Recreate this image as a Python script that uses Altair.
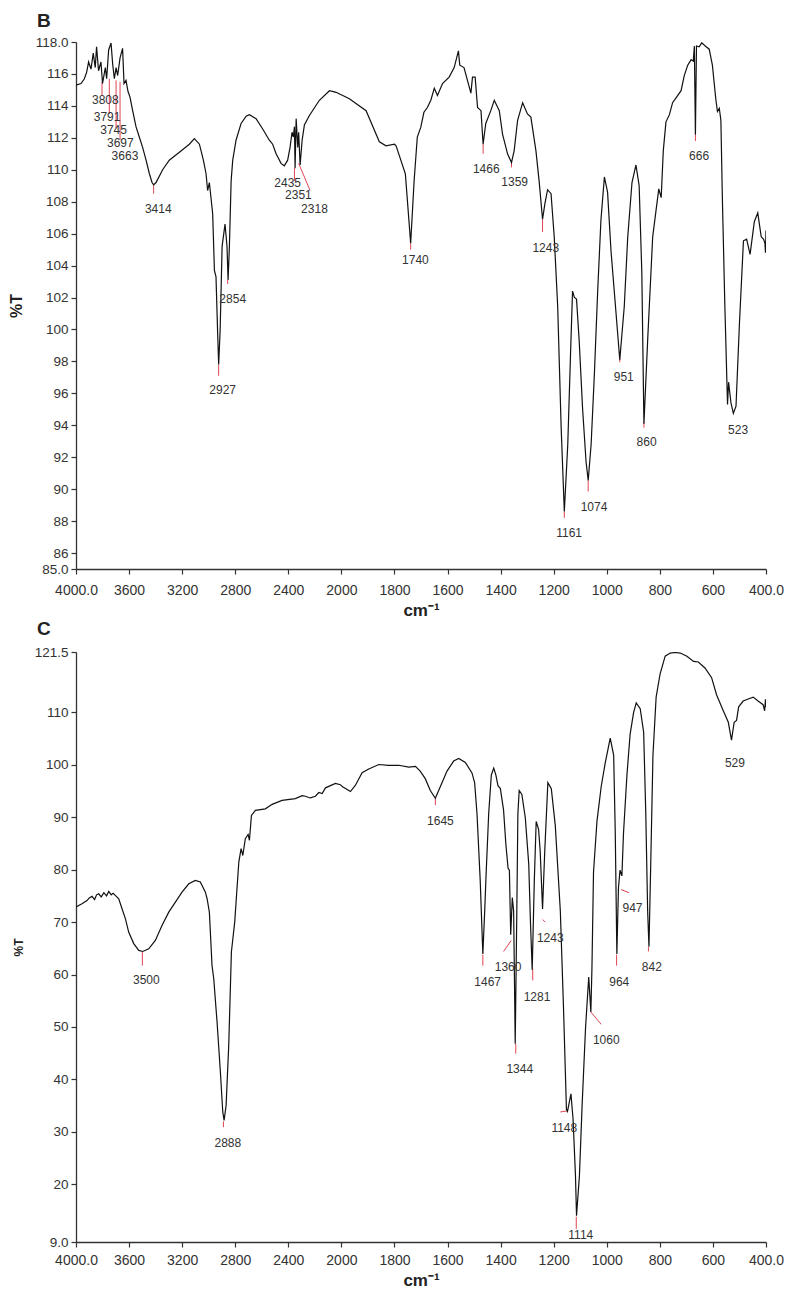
import altair as alt
import pandas as pd

# ---------------- Panel B spectrum ----------------
B_wn = [4000, 3962, 3937, 3920, 3905, 3887, 3870, 3855, 3845, 3830, 3812, 3800, 3779, 3769,
        3754, 3736, 3724, 3711, 3698, 3686, 3668, 3649, 3638, 3623, 3608, 3593, 3573, 3548,
        3523, 3498, 3472, 3447, 3427, 3415, 3397, 3347, 3297, 3221, 3146, 3108, 3070, 3040,
        3020, 3008, 2995, 2970, 2957, 2945, 2933, 2925, 2914, 2899, 2877, 2862, 2854, 2844,
        2831, 2819, 2794, 2756, 2718, 2693, 2643, 2593, 2543, 2518, 2492, 2455, 2430, 2405,
        2387, 2372, 2362, 2354, 2349, 2341, 2329, 2322, 2311, 2296, 2279, 2241, 2166, 2090,
        2040, 1970, 1907, 1857, 1832, 1800, 1794, 1782, 1759, 1739, 1726, 1714, 1701, 1689,
        1676, 1663, 1650, 1638, 1619, 1594, 1575, 1559, 1554, 1538, 1525, 1512, 1506, 1496,
        1487, 1474, 1466, 1456, 1437, 1424, 1405, 1393, 1374, 1359, 1349, 1336, 1317, 1299,
        1286, 1267, 1255, 1242, 1233, 1223, 1210, 1198, 1185, 1172, 1160, 1147, 1135, 1129,
        1122, 1114, 1104, 1091, 1078, 1070, 1059, 1047, 1034, 1022, 1009, 997, 984, 965,
        951, 934, 921, 905, 890, 878, 868, 860, 846, 827, 814, 804, 795, 787, 777, 764, 752,
        739, 720, 708, 695, 682, 674, 670, 666, 662, 652, 642, 629, 614, 602, 589, 583, 576,
        570, 564, 555, 545, 541, 532, 523, 513, 500, 485, 473, 460, 444, 431, 418, 409, 404,
        402, 400]
B_T = [115.3, 115.4, 115.7, 116.1, 116.75, 116.3, 117.3, 116.4, 117.7, 116.2, 116.75, 115.4,
       116.4, 115.7, 117.5, 117.94, 116.65, 115.7, 116.4, 115.9, 117.0, 117.6, 115.4, 115.6,
       114.9, 114.55, 113.7, 112.7, 112.05, 111.4, 110.6, 109.75, 109.2, 109.05, 109.2, 110.0,
       110.6, 111.1, 111.6, 111.95, 111.6, 110.6, 109.75, 108.7, 109.2, 107.25, 103.7, 103.3,
       99.9, 97.8, 99.9, 105.2, 106.6, 105.2, 103.1, 105.2, 109.3, 110.6, 111.85, 112.9, 113.35,
       113.45, 113.2, 112.55, 111.85, 111.6, 111.0, 110.4, 110.25, 110.6, 111.4, 112.35, 112.05,
       112.7, 110.1, 113.2, 111.4, 112.35, 110.3, 111.85, 112.8, 113.4, 114.35, 114.95, 114.85,
       114.45, 113.7, 111.75, 111.5, 111.6, 111.5, 110.9, 109.75, 105.4, 109.3, 112.05, 112.65,
       113.6, 113.9, 114.35, 115.1, 114.65, 115.4, 115.8, 116.4, 117.45, 116.55, 116.4, 115.6,
       114.8, 115.8, 115.8, 113.9, 113.7, 111.6, 112.9, 113.7, 114.35, 113.7, 112.25, 111.0,
       110.45, 111.2, 113.1, 114.2, 113.5, 113.3, 111.2, 109.3, 106.9, 107.9, 108.75, 108.5,
       105.8, 101.45, 93.9, 88.6, 92.8, 99.3, 102.4, 102.0, 101.9, 99.3, 95.0, 91.7, 90.55,
       92.8, 97.1, 102.5, 106.85, 109.55, 108.6, 104.9, 101.0, 98.1, 101.45, 105.8, 109.2,
       110.3, 109.0, 103.6, 94.1, 99.3, 105.8, 107.5, 108.8, 108.25, 111.2, 113.0, 113.45,
       114.2, 114.5, 114.95, 115.9, 116.55, 116.9, 116.8, 117.75, 112.2, 117.75, 117.7, 117.95,
       117.75, 117.55, 116.55, 114.4, 113.65, 113.85, 113.1, 107.9, 101.45, 95.3, 96.7, 95.4,
       94.75, 95.2, 100.4, 105.55, 105.65, 104.7, 106.75, 107.3, 105.8, 105.65, 105.4, 104.8,
       106.2]

# peak labels, panel B
B_lab_text = ["3808", "3791", "3745", "3697", "3663", "3414", "2927", "2854", "2435", "2351",
              "2318", "1740", "1466", "1359", "1243", "1161", "1074", "951", "860", "666", "523"]
B_lab_wn = [3779, 3766, 3717, 3666, 3631, 3380, 2895, 2819, 2405, 2324, 2203, 1721, 1454,
            1347, 1230, 1142, 1048, 936, 850, 652, 505]
B_lab_T = [114.35, 113.3, 112.47, 111.67, 110.86, 107.56, 96.18, 101.92, 109.17, 108.4,
           107.56, 104.37, 110.07, 109.23, 105.12, 87.24, 88.87, 97.01, 92.94, 110.86, 93.73]

# red marker segments, panel B
B_mk_wn = [3804, 3749, 3698, 3668, 3415, 2925, 2857, 2354, 2322, 1739, 1466, 1359, 1242,
           1160, 1070, 951, 860, 666]
B_mk_wn2 = [3804, 3749, 3698, 3668, 3415, 2925, 2857, 2354, 2236, 1739, 1466, 1359, 1242,
            1160, 1070, 951, 860, 666]
B_mk_T = [115.5, 115.7, 115.6, 115.5, 109.1, 97.8, 103.1, 110.1, 110.4, 105.4, 111.6, 110.45,
          106.9, 88.6, 90.55, 98.2, 94.2, 112.2]
B_mk_T2 = [114.65, 113.5, 112.6, 111.85, 108.5, 97.1, 102.85, 109.3, 108.7, 105.0, 111.0,
           110.15, 106.1, 88.2, 89.85, 97.95, 93.85, 111.8]

# ---------------- Panel C spectrum ----------------
C_wn = [4000, 3955, 3917, 3900, 3879, 3860, 3845, 3829, 3810, 3790, 3770, 3753, 3735, 3720,
        3704, 3678, 3653, 3628, 3603, 3565, 3527, 3497, 3452, 3402, 3352, 3301, 3251, 3201,
        3150, 3101, 3063, 3025, 3012, 2995, 2975, 2962, 2937, 2912, 2894, 2884, 2869, 2849,
        2829, 2804, 2792, 2773, 2756, 2743, 2724, 2703, 2693, 2678, 2648, 2573, 2522, 2447,
        2347, 2296, 2271, 2246, 2234, 2196, 2170, 2145, 2120, 2045, 2008, 1997, 1972, 1966,
        1947, 1922, 1897, 1859, 1822, 1784, 1746, 1721, 1703, 1684, 1665, 1646, 1627, 1602,
        1577, 1558, 1533, 1508, 1498, 1489, 1477, 1467, 1460, 1455, 1445, 1435, 1426, 1418,
        1410, 1401, 1389, 1380, 1372, 1367, 1362, 1356, 1351, 1345, 1339, 1335, 1330, 1320,
        1307, 1294, 1288, 1281, 1273, 1266, 1257, 1251, 1242, 1234, 1222, 1209, 1194, 1175,
        1163, 1152, 1148, 1135, 1127, 1118, 1114, 1103, 1093, 1080, 1068, 1060, 1056, 1050,
        1037, 1021, 1006, 987, 974, 968, 962, 956, 950, 943, 937, 924, 912, 899, 889, 874,
        861, 853, 846, 841, 835, 826, 814, 799, 780, 761, 742, 723, 698, 673, 655, 630, 605,
        586, 561, 542, 530, 520, 511, 503, 486, 467, 448, 430, 411, 405, 402, 400]
C_T = [72.9, 73.5, 74.1, 74.6, 74.9, 74.3, 75.2, 75.4, 74.8, 75.6, 75.0, 75.85, 75.2, 75.5,
       75.1, 74.45, 72.55, 70.65, 68.1, 65.9, 64.6, 64.4, 64.9, 66.5, 69.35, 71.9, 73.8, 75.7,
       77.3, 77.95, 77.65, 75.7, 74.45, 71.9, 61.75, 59.2, 50.95, 41.4, 33.8, 32.2, 35.0, 46.5,
       64.3, 70.0, 74.45, 81.45, 84.0, 82.7, 85.9, 86.7, 85.6, 90.35, 91.3, 91.6, 92.45, 93.2,
       93.55, 94.1, 94.0, 93.75, 93.7, 94.0, 94.7, 94.5, 95.6, 96.45, 96.2, 95.85, 95.1, 94.9,
       96.1, 98.5, 99.2, 100.05, 99.9, 99.9, 99.55, 99.7, 98.8, 97.35, 95.1, 93.6, 95.85, 98.8,
       100.7, 101.2, 100.45, 98.45, 96.6, 90.65, 78.05, 63.9, 72.1, 78.8, 90.65, 98.05, 99.35,
       98.05, 96.0, 95.45, 91.4, 84.7, 80.25, 79.9, 67.6, 74.7, 72.1, 46.8, 72.1, 90.65, 95.1,
       94.35, 89.9, 81.0, 70.6, 60.9, 78.05, 89.2, 87.7, 83.6, 72.5, 83.2, 96.6, 95.45, 88.4,
       72.1, 53.55, 34.3, 33.9, 37.25, 32.4, 21.7, 14.0, 21.7, 35.0, 49.85, 59.5, 52.85, 61.0,
       79.5, 89.2, 95.85, 100.3, 105.1, 101.8, 86.95, 63.9, 76.55, 79.9, 78.8, 86.95, 98.05,
       105.85, 109.95, 111.8, 110.7, 106.2, 90.65, 72.1, 65.3, 79.5, 101.8, 112.9, 117.35,
       120.7, 121.3, 121.4, 121.3, 120.7, 119.7, 119.6, 118.45, 116.6, 113.3, 110.3, 108.1,
       104.7, 108.1, 108.45, 111.05, 112.15, 112.55, 112.9, 112.15, 111.45, 110.3, 112.5, 111.0]

C_lab_text = ["3500", "2888", "1645", "1467", "1360", "1344", "1281", "1243", "1148", "1114",
              "1060", "964", "947", "842", "529"]
C_lab_wn = [3470, 2856, 1627, 1449, 1372, 1328, 1263, 1213, 1160, 1098, 1002, 953, 903, 830, 517]
C_lab_T = [58.9, 27.9, 89.2, 58.6, 61.4, 41.9, 55.8, 67.0, 30.8, 10.4, 47.6, 58.6, 72.6, 61.4, 100.4]

C_mk_wn = [3500, 2889, 1646, 1467, 1360, 1343, 1279, 1242, 1175, 1115, 1060, 963, 946, 843]
C_mk_wn2 = [3500, 2889, 1646, 1467, 1389, 1343, 1279, 1232, 1148, 1115, 1021, 963, 916, 843]
C_mk_T = [64.3, 32.0, 93.6, 63.8, 66.5, 46.8, 61.1, 70.5, 33.8, 13.8, 52.85, 63.8, 76.2, 65.25]
C_mk_T2 = [61.7, 30.9, 92.3, 61.7, 64.4, 44.9, 58.9, 70.0, 34.0, 11.5, 50.5, 61.7, 75.6, 64.4]

# ---------------- axes ----------------
X_TICKS = [4000, 3600, 3200, 2800, 2400, 2000, 1800, 1600, 1400, 1200, 1000, 800, 600, 400]
B_Y_TICKS = [85, 86, 88, 90, 92, 94, 96, 98, 100, 102, 104, 106, 108, 110, 112, 114, 116, 118]
C_Y_TICKS = [9, 20, 30, 40, 50, 60, 70, 80, 90, 100, 110, 121.5]

W = 690
FONT = "Liberation Sans"
RED = "#e04452"


def panel(letter, wn, T, lab_text, lab_wn, lab_T, mk_wn, mk_wn2, mk_T, mk_T2,
          ydom, yticks, ylabexpr, height, ytitle_size, ytitle_pad, title_offset, xlab_pad):
    xs = alt.Scale(domain=[4000, 2000, 400], range=[0, 265.4, W], nice=False, zero=False)
    ys = alt.Scale(domain=ydom, nice=False, zero=False)
    xaxis = alt.Axis(values=X_TICKS, format="d", title="cm⁻¹", titleFontSize=17,
                     titleFontWeight="bold", titleColor="#222", labelFontSize=14,
                     labelExpr="datum.value == 4000 ? '4000.0' : datum.value == 400 ? '400.0' : datum.label",
                     labelFlush=False, labelOverlap=False, tickSize=5, labelPadding=xlab_pad,
                     titlePadding=5)
    yaxis = alt.Axis(values=yticks, title="%T", titleFontSize=ytitle_size,
                     titleFontWeight="bold", titleColor="#222", labelFontSize=13.5,
                     labelExpr=ylabexpr, labelFlush=False, labelOverlap=False, tickSize=5,
                     labelPadding=3, titlePadding=ytitle_pad)
    spec = pd.DataFrame({"wn": wn, "T": T})
    labs = pd.DataFrame({"wn": lab_wn, "T": lab_T, "txt": lab_text})
    mks = pd.DataFrame({"wn": mk_wn, "wn2": mk_wn2, "T": mk_T, "T2": mk_T2})

    X = alt.X("wn:Q", scale=xs, axis=xaxis)
    Y = alt.Y("T:Q", scale=ys, axis=yaxis)

    line = alt.Chart(spec).mark_line(color="#111", strokeWidth=1.2, clip=True).encode(
        x=X, y=Y, order=alt.value(0),
    )
    rules = alt.Chart(mks).mark_rule(color=RED, strokeWidth=1).encode(
        x=X, x2="wn2:Q", y=Y, y2="T2:Q",
    )
    texts = alt.Chart(labs).mark_text(font=FONT, fontSize=12, color="#333",
                                      baseline="middle", align="center").encode(
        x=X, y=Y, text="txt:N",
    )
    return alt.layer(rules, line, texts).properties(
        width=W, height=height,
        title=alt.TitleParams(letter, anchor="start", frame="group", dx=-39, fontSize=19,
                              font=FONT, fontWeight="bold", color="#222",
                              offset=title_offset),
    )


pB = panel("B", B_wn, B_T, B_lab_text, B_lab_wn, B_lab_T, B_mk_wn, B_mk_wn2, B_mk_T, B_mk_T2,
           [85, 118], B_Y_TICKS,
           "datum.value == 85 ? '85.0' : datum.value == 118 ? '118.0' : datum.label",
           527, 16, 11, 4, 9)
pC = panel("C", C_wn, C_T, C_lab_text, C_lab_wn, C_lab_T, C_mk_wn, C_mk_wn2, C_mk_T, C_mk_T2,
           [9, 121.5], C_Y_TICKS,
           "datum.value == 9 ? '9.0' : datum.value == 121.5 ? '121.5' : datum.label",
           590, 12, 9, 6, 6)

chart = alt.vconcat(pB, pC, spacing=2).properties(
    padding={"left": 0, "top": 4, "right": 0, "bottom": 0}
).configure_view(stroke=None).configure_axis(
    grid=False, labelFont=FONT, titleFont=FONT, labelColor="#333", domainColor="#333",
    tickColor="#333", domainWidth=1.3, tickWidth=1.2
)

chart.save("out.html", embed_options={"renderer": "svg", "actions": False})
